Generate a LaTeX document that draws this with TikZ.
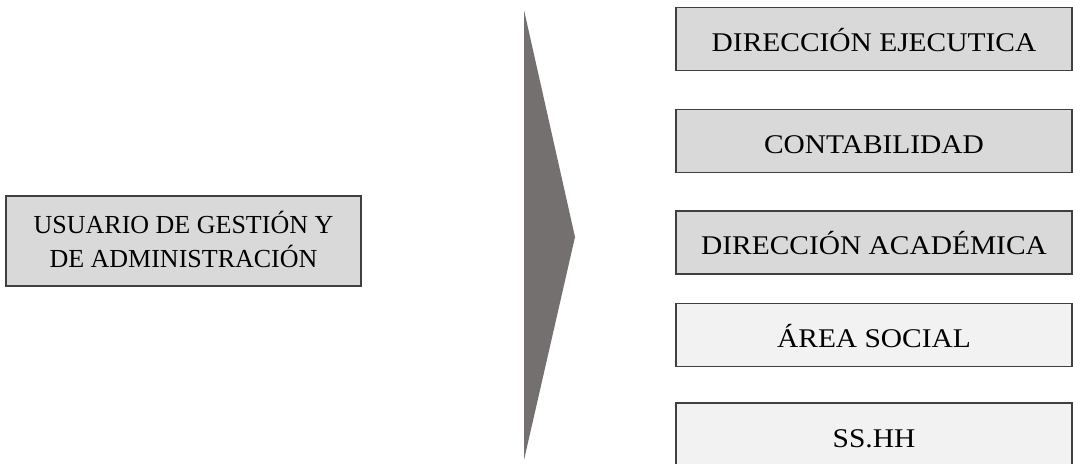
\documentclass[tikz,border=0pt]{standalone}
\usepackage{fontspec}
\setmainfont{Liberation Serif}
\newfontfamily\widefont{Liberation Serif}[FakeStretch=1.09]
\definecolor{boxdark}{HTML}{D9D9D9}
\definecolor{boxlight}{HTML}{F2F2F2}
\definecolor{edge}{HTML}{404040}
\definecolor{chev}{HTML}{757070}
\begin{document}
\begin{tikzpicture}[x=1pt,y=-1pt,
  box/.style={draw=edge, line width=1.8pt, inner sep=0pt, align=center, text=black},
  rbox/.style={box, minimum width=396pt, minimum height=63pt,
    font=\widefont\fontsize{27}{33}\selectfont, text height=24pt, text depth=0pt}]
\useasboundingbox (0,0) rectangle (1073,463);
\node[box, fill=boxdark, minimum width=355pt, minimum height=90pt,
  font=\fontsize{26}{34}\selectfont, text depth=4pt] (user) at (183.5,241)
  {USUARIO DE GESTIÓN Y\\DE ADMINISTRACIÓN};
\fill[chev] (524,10) coordinate (ct) -- (575,237) coordinate (cp) -- (524,460) coordinate (cb) -- cycle;
\node[rbox, fill=boxdark] (dej) at (874,39) {DIRECCIÓN EJECUTICA};
\node[rbox, fill=boxdark] (con) at (874,141) {CONTABILIDAD};
\node[rbox, fill=boxdark] (dac) at (874,242.5) {DIRECCIÓN ACADÉMICA};
\node[rbox, fill=boxlight] (soc) at (874,335) {ÁREA SOCIAL};
\node[rbox, fill=boxlight, minimum height=64pt] (ssh) at (874,435) {SS.HH};
\end{tikzpicture}
\end{document}
